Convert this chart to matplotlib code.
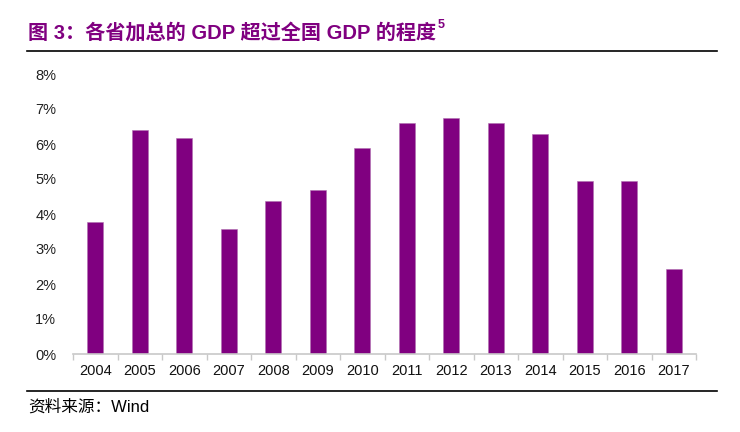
import numpy as np
import matplotlib
matplotlib.use("Agg")
import matplotlib.pyplot as plt
from matplotlib.ticker import FuncFormatter

plt.rcParams['font.family'] = ['Liberation Sans', 'Noto Sans CJK SC', 'DejaVu Sans']

years = ['2004', '2005', '2006', '2007', '2008', '2009', '2010',
         '2011', '2012', '2013', '2014', '2015', '2016', '2017']
excess = [3.78, 6.41, 6.16, 3.56, 4.37, 4.70, 5.88,
          6.60, 6.73, 6.60, 6.29, 4.94, 4.94, 2.43]  # %

purple = '#800080'

fig = plt.figure(figsize=(7.4, 4.32), dpi=100)
ax = fig.add_axes([73/740, 1-354/432, (696-73)/740, (354-74)/432])

x = np.arange(len(years))
ax.bar(x, excess, width=0.36, color=purple, edgecolor='#b070b0', linewidth=0.4)

ax.set_xlim(-0.5, len(years)-0.5)
ax.set_ylim(0, 8)
ax.set_yticks(np.arange(0, 9, 1))
ax.yaxis.set_major_formatter(FuncFormatter(lambda v, p: '%d%%' % v))
ax.set_xticks(x)
ax.set_xticklabels(years)
ax.set_xticks(np.arange(-0.5, len(years), 1), minor=True)

for s in ['top', 'right', 'left']:
    ax.spines[s].set_visible(False)
ax.spines['bottom'].set_color('#c8c8c8')
ax.spines['bottom'].set_linewidth(1.2)

ax.tick_params(axis='y', length=0, pad=12, labelsize=10.5, labelcolor='#222222')
ax.tick_params(axis='x', which='major', length=0, pad=7, labelsize=10.5, labelcolor='#111111')
ax.tick_params(axis='x', which='minor', length=4, color='#c8c8c8', width=1)

# title and rules
t = fig.text(28/740, 1-33/432, '图 3：各省加总的 GDP 超过全国 GDP 的程度', color=purple,
             fontsize=14.5, fontweight='bold', va='center', ha='left')
fig.canvas.draw()
bb = t.get_window_extent()
fig.text(bb.x1/740 + 0.002, bb.y1/432 - 0.004, '5', color=purple, fontsize=9,
         fontweight='bold', va='center', ha='left')

fig.add_artist(plt.Line2D([27/740, 717/740], [1-51/432, 1-51/432], color='black', lw=1.2))
fig.add_artist(plt.Line2D([27/740, 717/740], [1-391/432, 1-391/432], color='black', lw=1.2))

fig.text(28/740, 1-407/432, '资料来源：Wind', fontsize=12, va='center', ha='left', color='black')

fig.savefig('out.png', dpi=100)
